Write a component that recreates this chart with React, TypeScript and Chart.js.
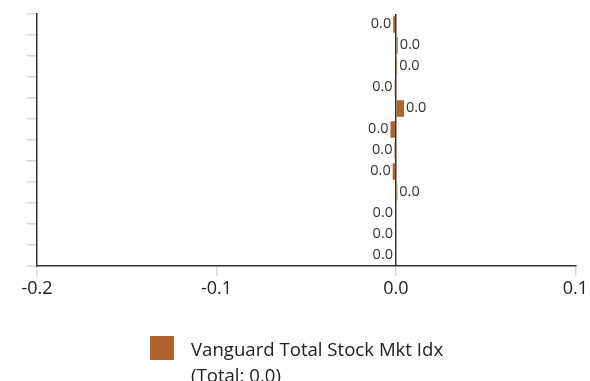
import React, { useEffect, useRef } from "react";
import { Chart, registerables } from "chart.js";

Chart.register(...registerables);

const categories = ["C1", "C2", "C3", "C4", "C5", "C6", "C7", "C8", "C9", "C10", "C11", "C12"];
const values = [-0.0015, 0.001, 0.0007, -0.0007, 0.0045, -0.003, -0.0008, -0.0018, 0.0008, -0.0005, -0.0005, -0.0005];
const seriesName = "Vanguard Total Stock Mkt Idx";
const totalLabel = "(Total: 0.0)";
const xTicks = [-0.2, -0.1, 0.0, 0.1];

const BAR = "#B0632B";
const FONT = "'Open Sans'";

const fmt = (v: number) => {
  const s = (Math.abs(v) < 0.05 ? 0 : v).toFixed(1);
  return s === "-0.0" ? "0.0" : s;
};

const labelPlugin = {
  id: "barLabels",
  afterDatasetsDraw(chart: any) {
    const ctx = chart.ctx;
    const meta = chart.getDatasetMeta(0);
    ctx.save();
    ctx.font = `14.5px ${FONT}`;
    ctx.fillStyle = "#333";
    ctx.textBaseline = "middle";
    meta.data.forEach((el: any, i: number) => {
      const v = values[i];
      const text = fmt(v);
      if (v < 0) {
        ctx.textAlign = "right";
        ctx.fillText(text, Math.min(el.x, el.base) - 2, el.y - 1);
      } else {
        ctx.textAlign = "left";
        ctx.fillText(text, Math.max(el.x, el.base) + 2, el.y - 1);
      }
    });
    ctx.restore();
  },
};

const legendPlugin = {
  id: "customLegend",
  afterDraw(chart: any) {
    const ctx = chart.ctx;
    ctx.save();
    ctx.fillStyle = BAR;
    ctx.fillRect(150, 336, 24, 24);
    ctx.fillStyle = "#222";
    ctx.font = `18.6px ${FONT}`;
    ctx.textAlign = "left";
    ctx.textBaseline = "alphabetic";
    ctx.fillText(seriesName, 191, 356);
    ctx.fillText(totalLabel, 191, 382);
    ctx.restore();
  },
};

export default function App() {
  const ref = useRef<HTMLCanvasElement>(null);
  useEffect(() => {
    document.body.style.margin = "0";
    const chart = new Chart(ref.current!, {
      type: "bar",
      data: {
        labels: categories,
        datasets: [
          {
            label: seriesName,
            data: values,
            backgroundColor: BAR,
            borderWidth: 0,
            barPercentage: 0.78,
            categoryPercentage: 1,
          },
        ],
      },
      options: {
        indexAxis: "y",
        animation: false,
        responsive: false,
        maintainAspectRatio: false,
        layout: { padding: { top: 14, right: 14, bottom: 75, left: 0 } },
        plugins: { legend: { display: false }, tooltip: { enabled: false } },
        scales: {
          x: {
            min: -0.2,
            max: 0.1,
            afterBuildTicks: (s: any) => {
              s.ticks = xTicks.map((v) => ({ value: v }));
            },
            afterFit: (s: any) => {
              s.height = 40;
            },
            ticks: {
              callback: (v: any) => fmt(Number(v)),
              font: { family: FONT, size: 18 },
              color: "#222",
              padding: 2,
            },
            grid: {
              drawOnChartArea: true,
              color: (c: any) => (c.tick && Math.abs(c.tick.value) < 1e-9 ? "#333" : "rgba(0,0,0,0)"),
              tickColor: "#d9d9d9",
              tickLength: 10,
              lineWidth: 1.5,
            },
            border: { color: "#333", width: 1.5 },
          },
          y: {
            afterFit: (s: any) => {
              s.width = 37;
            },
            ticks: { display: false },
            grid: {
              drawOnChartArea: false,
              tickColor: "#d9d9d9",
              tickLength: 10,
              lineWidth: 1.5,
            },
            border: { color: "#333", width: 1.5 },
          },
        },
      },
      plugins: [labelPlugin, legendPlugin],
    });
    return () => chart.destroy();
  }, []);
  return <canvas ref={ref} width={590} height={381} style={{ display: "block" }} />;
}
